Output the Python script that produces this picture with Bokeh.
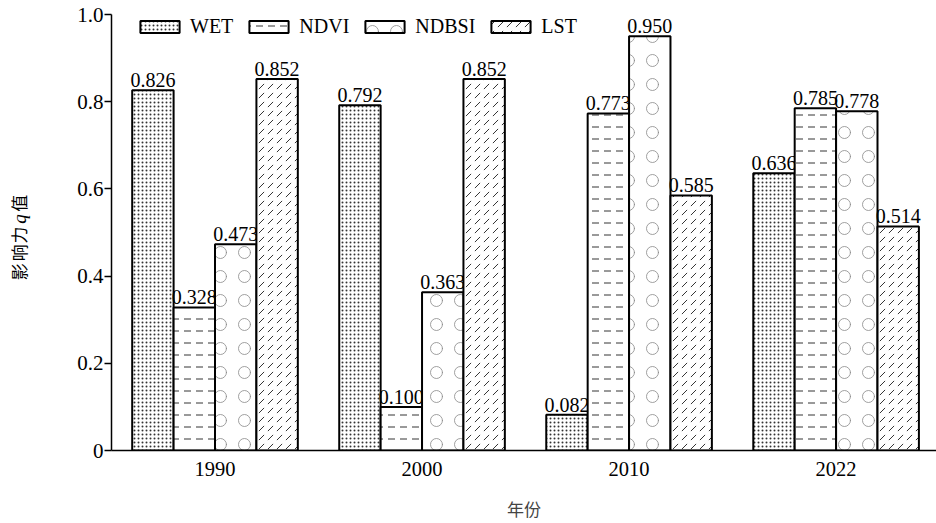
import math
from bokeh.plotting import figure
from bokeh.layouts import row
from bokeh.models import (ColumnDataSource, Legend, LegendItem, FixedTicker, Range1d)
from bokeh.core.properties import value
from bokeh.embed import file_html
from bokeh.resources import INLINE

years = ["1990", "2000", "2010", "2022"]
series_names = ["WET", "NDVI", "NDBSI", "LST"]
WET = [0.826, 0.792, 0.082, 0.636]
NDVI = [0.328, 0.100, 0.773, 0.785]
NDBSI = [0.473, 0.363, 0.950, 0.778]
LST = [0.852, 0.852, 0.585, 0.514]
y_ticks = [0, 0.2, 0.4, 0.6, 0.8, 1.0]
y_tick_labels = ["0", "0.2", "0.4", "0.6", "0.8", "1.0"]
y_title_chars = ["影", "响", "力", "q", "值"]

values = [WET, NDVI, NDBSI, LST]
offsets = [-0.3, -0.1, 0.1, 0.3]
hatches = [
    dict(hatch_pattern="dot", hatch_scale=4, hatch_weight=1.0, hatch_color="#333333"),
    dict(hatch_pattern="horizontal_dash", hatch_scale=12, hatch_weight=1.0, hatch_color="#333333"),
    dict(hatch_pattern="ring", hatch_scale=24, hatch_weight=0.8, hatch_color="#888888"),
    dict(hatch_pattern="right_diagonal_dash", hatch_scale=9, hatch_weight=1.0, hatch_color="#333333"),
]

SERIF = "Liberation Serif"
CJK = "Noto Sans CJK SC"
W, H = 936, 523
LEFT_W = 40
FRAME_TOP, FRAME_BOTTOM = 14, 453

# ---- narrow figure holding the rotated y-axis title ----
# (its frame is aligned with the main frame by the row layout, so the
#  ranges below map 1:1 to page pixels)
t = figure(width=LEFT_W, height=H, output_backend="svg", toolbar_location=None,
           x_range=Range1d(0, LEFT_W), y_range=Range1d(FRAME_BOTTOM, FRAME_TOP),
           min_border=0, min_border_left=0, min_border_right=0,
           min_border_top=0, min_border_bottom=0, title=None)
t.axis.visible = False
t.grid.visible = False
t.outline_line_color = None
char_y = [273, 254, 236, 220, 204]
cjk_idx = [0, 1, 2, 4]
t_src = ColumnDataSource(dict(x=[18] * 4, y=[char_y[i] for i in cjk_idx],
                              txt=[y_title_chars[i] for i in cjk_idx]))
t.text(x="x", y="y", text="txt", source=t_src, angle=math.pi / 2,
       text_align="center", text_baseline="middle",
       text_font=value(CJK), text_font_size="17px", text_color="black")
q_src = ColumnDataSource(dict(x=[19], y=[char_y[3]], txt=[y_title_chars[3]]))
t.text(x="x", y="y", text="txt", source=q_src, angle=math.pi / 2,
       text_align="center", text_baseline="middle",
       text_font=value(SERIF), text_font_size="19px", text_font_style="italic",
       text_color="black")

# ---- main chart ----
p = figure(width=W - LEFT_W, height=H, output_backend="svg", toolbar_location=None,
           x_range=Range1d(-0.5, 3.485), y_range=Range1d(0, 1.0),
           min_border_left=111 - LEFT_W, min_border_right=0, min_border_top=FRAME_TOP,
           min_border_bottom=H - FRAME_BOTTOM)
p.outline_line_color = None
p.xgrid.grid_line_color = None
p.ygrid.grid_line_color = None

items = []
for name, vals, off, h in zip(series_names, values, offsets, hatches):
    xs = [i + off for i in range(len(years))]
    src = ColumnDataSource(dict(x=xs, top=vals, lab=["%.3f" % v for v in vals]))
    r = p.vbar(x="x", top="top", width=0.2, bottom=0, source=src,
               fill_color="white", line_color="black", line_width=2, **h)
    items.append(LegendItem(label=name, renderers=[r]))
    p.text(x="x", y="top", text="lab", source=src, text_align="center",
           text_baseline="bottom", y_offset=-3, text_font=value(SERIF),
           text_font_size="20px", text_color="black")

legend = Legend(items=items, orientation="horizontal", location=(24, 412),
                padding=0, margin=0, spacing=11, label_standoff=6,
                glyph_width=49, glyph_height=15,
                label_text_font=SERIF, label_text_font_size="20px",
                label_text_color="black",
                border_line_color=None, background_fill_alpha=0)
p.add_layout(legend)

# x axis
p.xaxis.ticker = FixedTicker(ticks=list(range(len(years))))
p.xaxis.major_label_overrides = {i: y for i, y in enumerate(years)}
p.xaxis.major_tick_line_color = None
p.xaxis.minor_tick_line_color = None
p.xaxis.axis_line_width = 1.5
p.xaxis.major_label_text_font = SERIF
p.xaxis.major_label_text_font_size = "20.5px"
p.xaxis.major_label_text_color = "black"
p.xaxis.major_label_standoff = 5
p.xaxis.axis_label = "年份"
p.xaxis.axis_label_text_font = CJK
p.xaxis.axis_label_text_font_size = "17px"
p.xaxis.axis_label_text_font_style = "normal"
p.xaxis.axis_label_standoff = 17

# y axis
p.yaxis.ticker = FixedTicker(ticks=y_ticks)
p.yaxis.major_label_overrides = {tk: l for tk, l in zip(y_ticks, y_tick_labels)}
p.yaxis.minor_tick_line_color = None
p.yaxis.major_tick_out = 7
p.yaxis.major_tick_in = 0
p.yaxis.axis_line_width = 1.5
p.yaxis.major_tick_line_width = 1.5
p.yaxis.major_label_text_font = SERIF
p.yaxis.major_label_text_font_size = "21px"
p.yaxis.major_label_text_color = "black"
p.yaxis.major_label_standoff = 1

layout = row(t, p, spacing=0)
open("out.html", "w").write(file_html(layout, INLINE))
